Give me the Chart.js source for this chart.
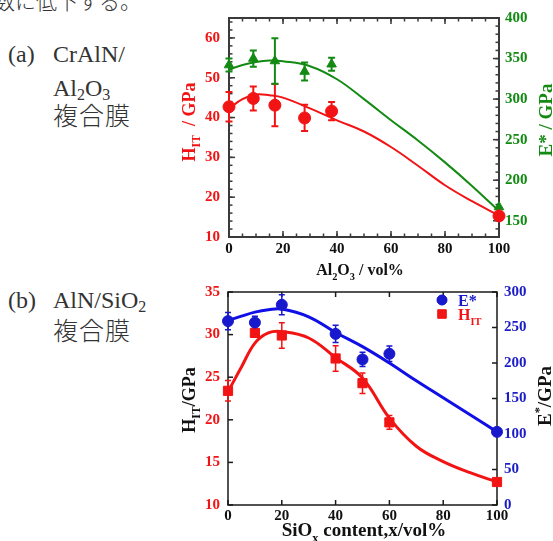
<!DOCTYPE html>
<html>
<head>
<meta charset="utf-8">
<script src="https://cdn.jsdelivr.net/npm/chart.js@4.4.1/dist/chart.umd.min.js"></script>
<style>
  html, body { margin: 0; padding: 0; background: #fff; }
  body { width: 553px; height: 541px; position: relative; overflow: hidden; color: #333;
         font-family: "Liberation Serif", "Noto Sans CJK JP", serif; }
  .t { position: absolute; white-space: nowrap; font-size: 24px; line-height: 24px; }
  .jp { font-family: "Noto Sans CJK JP", sans-serif; font-size: 25px; line-height: 25px; letter-spacing: 1px; font-weight: 300; }
  .t sub { font-size: 16px; vertical-align: -4px; line-height: 0; }
  #chartA { position: absolute; left: 160px; top: 0; }
  #chartB { position: absolute; left: 160px; top: 275px; }
</style>
</head>
<body>
<div class="t jp" style="left:-6px; top:-10px; font-size:21px; line-height:21px; letter-spacing:0;">数に低下する。</div>

<div class="t" style="left:8px; top:42px;">(a)</div>
<div class="t" style="left:53px; top:42px;">CrAlN/</div>
<div class="t" style="left:53px; top:76px;">Al<sub>2</sub>O<sub>3</sub></div>
<div class="t jp" style="left:53px; top:102px;">複合膜</div>

<div class="t" style="left:8px; top:288px;">(b)</div>
<div class="t" style="left:53px; top:288px;">AlN/SiO<sub>2</sub></div>
<div class="t jp" style="left:53px; top:317px;">複合膜</div>

<canvas id="chartA" width="393" height="280"></canvas>
<canvas id="chartB" width="393" height="266"></canvas>

<script>
// ---- (a) CrAlN/Al2O3 ----
const al2o3 = [0, 9, 17, 28, 38, 100];
const hitA = [42.7, 44.8, 43.1, 39.9, 41.6, 15.3];
const hitAErr = [3.7, 3.0, 5.3, 3.3, 2.3, 0];
const eA = [342, 350, 347, 334, 343, 167];
const eAErr = [8, 10, 28, 11, 8, 0];

const fitXA = [0, 5, 10, 15, 20, 30, 40, 50, 60, 70, 80, 90, 100];
const hitAFit = [42.3, 44.6, 45.8, 45.6, 45.0, 42.3, 39.3, 36.5, 32.6, 27.9, 23.0, 19.0, 15.4];
const eAFit = [336.6, 342, 345.8, 347.5, 346.7, 340.6, 324.5, 300, 274, 249, 222, 193, 162];

const xTicksA = [0, 20, 40, 60, 80, 100];
const hitTicksA = [10, 20, 30, 40, 50, 60];
const eTicksA = [150, 200, 250, 300, 350, 400];

// ---- (b) AlN/SiO2 ----
const siox = [0, 10, 20, 40, 50, 60, 100];
const eB = [259, 257, 282, 241, 205, 213, 103];
const eBErr = [12, 9, 14, 12, 10, 11, 0];
const hitB = [23.4, 30.2, 29.9, 27.2, 24.3, 19.7, 12.7];
const hitBErr = [1.2, 0.5, 1.5, 1.5, 1.2, 0.8, 0];

const fitXB = [0, 5, 10, 15, 20, 30, 40, 50, 60, 70, 80, 90, 100];
const eBFit = [260, 266, 271.6, 275, 276, 265, 243, 223, 200, 175, 151, 127, 103];
const hitBFit = [23.3, 26.2, 29.0, 30.2, 30.35, 29.6, 27.3, 24.9, 20.2, 16.9, 15.1, 13.8, 12.7];

const xTicksB = [0, 20, 40, 60, 80, 100];
const hitTicksB = [10, 15, 20, 25, 30, 35];
const eTicksB = [0, 50, 100, 150, 200, 250, 300];

const RED = '#f21414';
const GREEN = '#138a13';
const BLUE = '#1010e6';
const SERIF = '"Liberation Serif", "Times New Roman", serif';

const pts = (xs, ys) => xs.map((x, i) => ({ x, y: ys[i] }));
const steps = (lo, hi, st) => { const r = []; for (let v = lo; v <= hi + 1e-9; v += st) r.push(v); return r; };

function drawRich(ctx, runs, x, y, rot, size, color, align) {
  ctx.save();
  ctx.translate(x, y);
  ctx.rotate(rot);
  ctx.fillStyle = color;
  ctx.textBaseline = 'alphabetic';
  ctx.textAlign = 'left';
  const fs = r => (r.sub || r.sup) ? size * 0.65 : size;
  let w = 0;
  for (const r of runs) { ctx.font = `bold ${fs(r)}px ${SERIF}`; w += ctx.measureText(r.t).width; }
  let cx = align === 'left' ? 0 : -w / 2;
  for (const r of runs) {
    ctx.font = `bold ${fs(r)}px ${SERIF}`;
    const dy = r.sub ? size * 0.3 : r.sup ? -size * 0.4 : 0;
    ctx.fillText(r.t, cx, dy);
    cx += ctx.measureText(r.t).width;
  }
  ctx.restore();
}

const decor = {
  id: 'decor',
  beforeDatasetsDraw(chart, args, o) {
    const { ctx, chartArea: a, scales } = chart;
    ctx.save();
    ctx.strokeStyle = o.frame;
    ctx.lineWidth = o.frameWidth;
    ctx.strokeRect(a.left, a.top, a.width, a.height);
    ctx.lineWidth = o.tickWidth;
    for (const t of o.ticks) {
      const s = scales[t.scale];
      const groups = [[t.major, o.majorLen], [t.minor || [], o.minorLen]];
      for (const [vals, len] of groups) {
        for (const v of vals) {
          const p = s.getPixelForValue(v);
          ctx.beginPath();
          if (s.isHorizontal()) {
            ctx.moveTo(p, a.bottom); ctx.lineTo(p, a.bottom - len);
            ctx.moveTo(p, a.top); ctx.lineTo(p, a.top + len);
          } else if (s.position === 'left') {
            ctx.moveTo(a.left, p); ctx.lineTo(a.left + len, p);
          } else {
            ctx.moveTo(a.right, p); ctx.lineTo(a.right - len, p);
          }
          ctx.stroke();
        }
      }
    }
    // error bars
    for (const e of o.errorBars) {
      const sy = scales[e.axis], sx = scales.x;
      ctx.strokeStyle = e.color;
      ctx.lineWidth = o.barWidth;
      e.x.forEach((xv, i) => {
        if (!e.err[i]) return;
        const px = sx.getPixelForValue(xv);
        const top = sy.getPixelForValue(e.y[i] + e.err[i]);
        const bot = sy.getPixelForValue(e.y[i] - e.err[i]);
        ctx.beginPath();
        ctx.moveTo(px, top); ctx.lineTo(px, bot);
        ctx.moveTo(px - o.cap, top); ctx.lineTo(px + o.cap, top);
        ctx.moveTo(px - o.cap, bot); ctx.lineTo(px + o.cap, bot);
        ctx.stroke();
      });
    }
    ctx.restore();
  },
  afterDraw(chart, args, o) {
    const { ctx } = chart;
    for (const l of o.labels) drawRich(ctx, l.runs, l.x, l.y, l.rot || 0, l.size, l.color, l.align);
    for (const g of (o.legend || [])) {
      ctx.save();
      ctx.fillStyle = g.color;
      ctx.strokeStyle = g.color;
      Chart.helpers.drawPoint(ctx, { pointStyle: g.style, radius: g.radius, borderWidth: 1 }, g.x, g.y);
      ctx.fill();
      ctx.restore();
      drawRich(ctx, g.runs, g.x + 16, g.y + 6, 0, 16, g.color, 'left');
    }
  }
};

function yScale(pos, min, max, ticks, color, pad, width) {
  return {
    type: 'linear', position: pos, min, max,
    grid: { display: false, drawTicks: false },
    border: { display: false },
    afterBuildTicks: s => { s.ticks = ticks.map(v => ({ value: v })); },
    afterFit: s => { s.width = width; },
    ticks: { color, padding: pad, font: { family: SERIF, size: 15, weight: 'bold' } }
  };
}
function xScale(ticks, pad, height) {
  return {
    type: 'linear', min: 0, max: 100,
    grid: { display: false, drawTicks: false },
    border: { display: false },
    afterBuildTicks: s => { s.ticks = ticks.map(v => ({ value: v })); },
    afterFit: s => { s.height = height; },
    ticks: { color: '#111', padding: pad, maxRotation: 0, font: { family: SERIF, size: 15, weight: 'bold' } }
  };
}

// ---------- chart (a) ----------
new Chart(document.getElementById('chartA'), {
  type: 'line',
  data: {
    datasets: [
      { label: 'HIT', data: pts(al2o3, hitA), yAxisID: 'y', showLine: false, pointStyle: 'circle',
        pointRadius: 6, backgroundColor: RED, borderColor: RED, clip: false },
      { label: 'E*', data: pts(al2o3, eA), yAxisID: 'y1', showLine: false, pointStyle: 'triangle',
        pointRadius: 5.5, backgroundColor: GREEN, borderColor: GREEN, clip: false },
      { label: 'HIT fit', data: pts(fitXA, hitAFit), yAxisID: 'y', borderColor: RED, borderWidth: 2,
        pointRadius: 0, tension: 0.4, clip: false },
      { label: 'E* fit', data: pts(fitXA, eAFit), yAxisID: 'y1', borderColor: GREEN, borderWidth: 2,
        pointRadius: 0, tension: 0.4, clip: false }
    ]
  },
  options: {
    responsive: false, animation: false,
    layout: { padding: { top: 16, left: 0, right: 0, bottom: 0 } },
    scales: {
      x: xScale(xTicksA, 3, 43),
      y: yScale('left', 10, 65, hitTicksA, RED, 9, 69),
      y1: yScale('right', 130, 400, eTicksA, GREEN, 6, 54)
    },
    plugins: {
      legend: { display: false }, tooltip: { enabled: false },
      decor: {
        frame: '#3a3a3a', frameWidth: 2, tickWidth: 1.5, majorLen: 6, minorLen: 3.5,
        ticks: [
          { scale: 'x', major: xTicksA, minor: steps(0, 100, 5) },
          { scale: 'y', major: hitTicksA, minor: steps(10, 64, 2) },
          { scale: 'y1', major: eTicksA, minor: steps(130, 400, 10) }
        ],
        barWidth: 2, cap: 3.5,
        errorBars: [
          { x: al2o3, y: hitA, err: hitAErr, axis: 'y', color: RED },
          { x: al2o3, y: eA, err: eAErr, axis: 'y1', color: GREEN }
        ],
        labels: [
          { runs: [{ t: 'H' }, { t: 'IT', sub: true }, { t: '  / GPa' }], x: 35, y: 122, rot: -Math.PI / 2, size: 18, color: RED },
          { runs: [{ t: 'E* / GPa' }], x: 392, y: 120, rot: -Math.PI / 2, size: 19, color: GREEN },
          { runs: [{ t: 'Al' }, { t: '2', sub: true }, { t: 'O' }, { t: '3', sub: true }, { t: ' / vol%' }], x: 200, y: 275, size: 16, color: '#111' }
        ]
      }
    }
  },
  plugins: [decor]
});

// ---------- chart (b) ----------
new Chart(document.getElementById('chartB'), {
  type: 'line',
  data: {
    datasets: [
      { label: 'E*', data: pts(siox, eB), yAxisID: 'y1', showLine: false, pointStyle: 'circle',
        pointRadius: 5.5, backgroundColor: '#1818cc', borderColor: '#1818cc', clip: false },
      { label: 'HIT', data: pts(siox, hitB), yAxisID: 'y', showLine: false, pointStyle: 'rect',
        pointRadius: 6.5, backgroundColor: RED, borderColor: RED, clip: false },
      { label: 'E* fit', data: pts(fitXB, eBFit), yAxisID: 'y1', borderColor: BLUE, borderWidth: 3,
        pointRadius: 0, tension: 0.4, clip: false },
      { label: 'HIT fit', data: pts(fitXB, hitBFit), yAxisID: 'y', borderColor: RED, borderWidth: 3,
        pointRadius: 0, tension: 0.4, clip: false }
    ]
  },
  options: {
    responsive: false, animation: false,
    layout: { padding: { top: 11, left: 0, right: 0, bottom: 0 } },
    scales: {
      x: xScale(xTicksB, 2, 36),
      y: yScale('left', 10, 35, hitTicksB, RED, 8, 68),
      y1: yScale('right', 0, 300, eTicksB, '#1c1cc8', 7, 56)
    },
    plugins: {
      legend: { display: false }, tooltip: { enabled: false },
      decor: {
        frame: '#1a1a1a', frameWidth: 1.5, tickWidth: 1.5, majorLen: 5, minorLen: 3,
        ticks: [
          { scale: 'x', major: xTicksB },
          { scale: 'y', major: hitTicksB },
          { scale: 'y1', major: eTicksB }
        ],
        barWidth: 1.5, cap: 3,
        errorBars: [
          { x: siox, y: eB, err: eBErr, axis: 'y1', color: '#1818cc' },
          { x: siox, y: hitB, err: hitBErr, axis: 'y', color: RED }
        ],
        labels: [
          { runs: [{ t: 'H' }, { t: 'IT', sub: true }, { t: '/GPa' }], x: 35, y: 125, rot: -Math.PI / 2, size: 18, color: '#111' },
          { runs: [{ t: 'E' }, { t: '*', sup: true }, { t: '/GPa' }], x: 391, y: 121, rot: -Math.PI / 2, size: 19, color: '#111' },
          { runs: [{ t: 'SiO' }, { t: 'x', sub: true }, { t: ' content,x/vol%' }], x: 204, y: 261, size: 19, color: '#111' }
        ],
        legend: [
          { style: 'circle', radius: 5, x: 282, y: 25, color: '#1818cc', runs: [{ t: 'E*' }] },
          { style: 'rect', radius: 6, x: 282, y: 39, color: RED, runs: [{ t: 'H' }, { t: 'IT', sub: true }] }
        ]
      }
    }
  },
  plugins: [decor]
});
</script>
</body>
</html>
